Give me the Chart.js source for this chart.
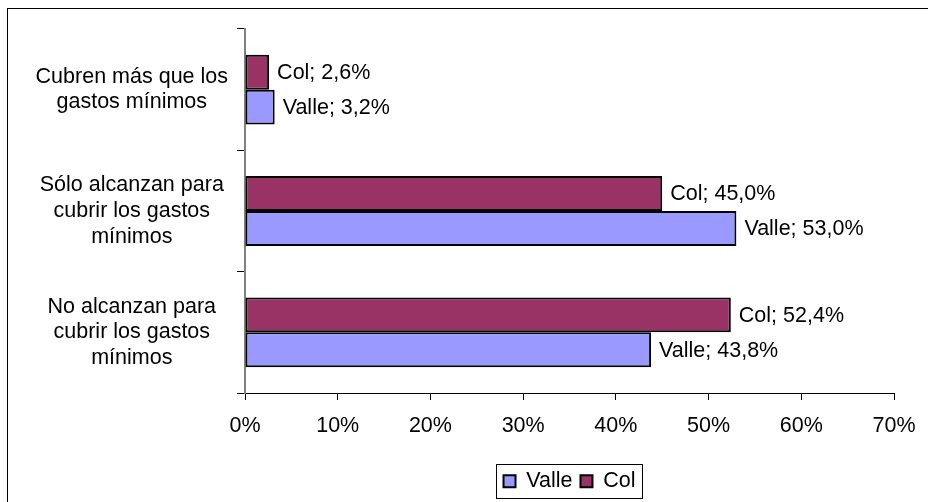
<!DOCTYPE html>
<html>
<head>
<meta charset="utf-8">
<script src="https://cdn.jsdelivr.net/npm/chart.js@4/dist/chart.umd.min.js"></script>
<style>
  html, body { margin: 0; padding: 0; background: #fff; }
  #wrap { width: 928px; height: 502px; }
</style>
</head>
<body>
<div id="wrap"><canvas id="c" width="928" height="502"></canvas></div>
<script>
const categories = [
  ["Cubren más que los", "gastos mínimos"],
  ["Sólo alcanzan para", "cubrir los gastos", "mínimos"],
  ["No alcanzan para", "cubrir los gastos", "mínimos"]
];
const colValues = [2.6, 45.0, 52.4];
const valleValues = [3.2, 53.0, 43.8];
const xTicks = [0, 10, 20, 30, 40, 50, 60, 70];

const FONT = "'Liberation Sans', Arial, sans-serif";
const FS = 21.5;

const framePlugin = {
  id: 'frame',
  beforeDraw(chart) {
    const ctx = chart.ctx;
    ctx.save();
    ctx.fillStyle = '#fff';
    ctx.fillRect(0, 0, chart.width, chart.height);
    ctx.strokeStyle = '#000';
    ctx.lineWidth = 1;
    ctx.strokeRect(7.5, 8.5, 1000, 1000);
    ctx.restore();
  },
  afterLayout(chart) {
    const lg = chart.legend;
    if (lg) {
      lg.left = chart.chartArea.left;
      lg.right = chart.chartArea.right;
      lg.width = lg.right - lg.left;
    }
  },
  afterDraw(chart) {
    const lg = chart.legend;
    if (!lg || !lg.legendHitBoxes || !lg.legendHitBoxes.length) return;
    const hb = lg.legendHitBoxes;
    const first = hb[0], last = hb[hb.length - 1];
    const x0 = Math.round(first.left - 8) + 0.5;
    const x1 = Math.round(last.left + last.width + 7) + 0.5;
    const y0 = Math.round(first.top - 7) + 0.5;
    const y1 = Math.round(first.top + first.height + 6) + 0.5;
    const ctx = chart.ctx;
    ctx.save();
    ctx.strokeStyle = '#000';
    ctx.lineWidth = 1;
    ctx.strokeRect(x0, y0, x1 - x0, y1 - y0);
    ctx.restore();
  }
};

const labelPlugin = {
  id: 'barLabels',
  afterDatasetsDraw(chart) {
    const ctx = chart.ctx;
    ctx.save();
    ctx.font = FS + 'px ' + FONT;
    ctx.fillStyle = '#000';
    ctx.textAlign = 'left';
    ctx.textBaseline = 'middle';
    chart.data.datasets.forEach((ds, di) => {
      const meta = chart.getDatasetMeta(di);
      meta.data.forEach((bar, i) => {
        const v = ds.data[i];
        const txt = ds.label + '; ' + v.toFixed(1).replace('.', ',') + '%';
        ctx.fillText(txt, bar.x + 8, bar.y + 1);
      });
    });
    ctx.restore();
  }
};

new Chart(document.getElementById('c'), {
  type: 'bar',
  data: {
    labels: categories,
    datasets: [
      {
        label: 'Col',
        data: colValues,
        backgroundColor: '#993366',
        borderColor: '#000',
        borderWidth: 2,
        borderSkipped: false,
        categoryPercentage: 0.575,
        barPercentage: 1.0
      },
      {
        label: 'Valle',
        data: valleValues,
        backgroundColor: '#9999FF',
        borderColor: '#000',
        borderWidth: 2,
        borderSkipped: false,
        categoryPercentage: 0.575,
        barPercentage: 1.0
      }
    ]
  },
  options: {
    indexAxis: 'y',
    responsive: false,
    animation: false,
    layout: { padding: { left: 0, top: 29, right: 34, bottom: 0 } },
    scales: {
      x: {
        min: 0,
        max: 70,
        afterBuildTicks(axis) { axis.ticks = xTicks.map(v => ({ value: v })); },
        afterFit(axis) { axis.height = 69.5; axis.paddingLeft = 0; axis.paddingRight = 0; },
        ticks: {
          callback: v => v + '%',
          color: '#000',
          font: { family: FONT, size: FS, lineHeight: 1.2 },
          padding: 13,
          maxRotation: 0
        },
        grid: { drawOnChartArea: false, drawTicks: true, tickLength: 7, color: '#000', lineWidth: 1 },
        border: { color: '#000', width: 1 }
      },
      y: {
        afterFit(axis) { axis.width = 245; axis.paddingTop = 0; axis.paddingBottom = 0; },
        ticks: {
          color: '#000',
          crossAlign: 'center',
          font: { family: FONT, size: FS, lineHeight: 1.19 },
          padding: 9,
          autoSkip: false
        },
        grid: { offset: true, drawOnChartArea: false, drawTicks: true, tickLength: 8, color: '#000', lineWidth: 1 },
        border: { color: '#808080', width: 2 }
      }
    },
    plugins: {
      legend: {
        position: 'bottom',
        reverse: true,
        labels: {
          color: '#000',
          font: { family: FONT, size: FS },
          boxWidth: 12,
          boxHeight: 12,
          padding: 8
        }
      },
      tooltip: { enabled: false }
    }
  },
  plugins: [framePlugin, labelPlugin]
});
</script>
</body>
</html>
